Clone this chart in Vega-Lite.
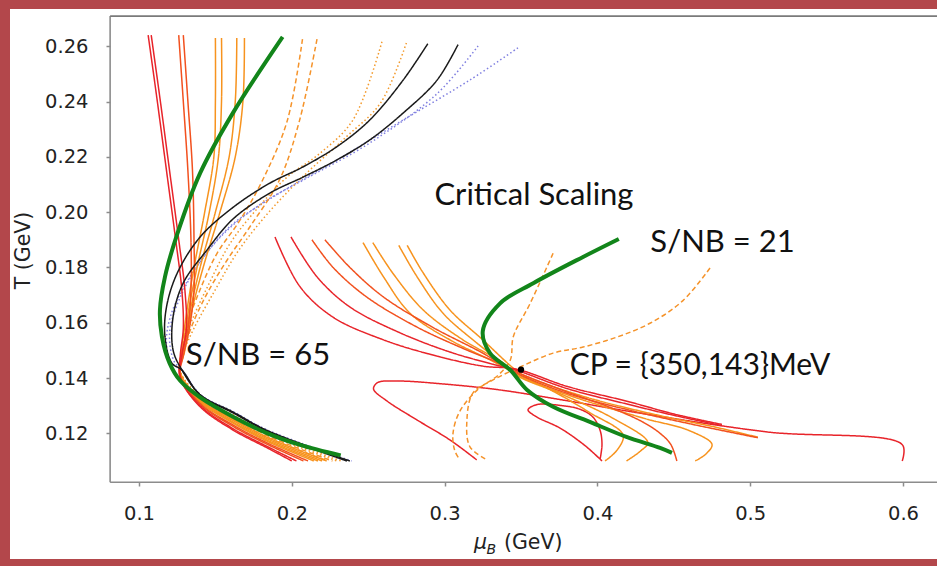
{
  "$schema": "https://vega.github.io/schema/vega-lite/v6.json",
  "width": 927,
  "height": 550,
  "autosize": {"type": "none"},
  "padding": {"left": 10, "top": 9, "right": 0, "bottom": 7},
  "background": "#b3474b",
  "config": {
    "view": {"stroke": null, "fill": "white"},
    "axis": {
      "domain": false, "grid": false,
      "tickColor": "#8c8c8c", "tickWidth": 1.5, "tickSize": 4,
      "labelFont": "DejaVu Sans", "labelFontSize": 19.5, "labelColor": "#222222",
      "labelFlush": false, "labelOverlap": false,
      "titleFont": "DejaVu Sans", "titleFontSize": 20.5, "titleFontWeight": "normal", "titleColor": "#222222"
    }
  },
  "datasets": {
    "curves": [
      {"c": "a1", "k": "red"}, {"c": "a2", "k": "red"}, {"c": "a3", "k": "redorange"}, {"c": "a4", "k": "redorange"},
      {"c": "a5", "k": "orange"}, {"c": "a6", "k": "orange"}, {"c": "a7", "k": "orange"}, {"c": "a8", "k": "orange"},
      {"c": "a9", "k": "odash"}, {"c": "a10", "k": "odash"}, {"c": "a11", "k": "odot"}, {"c": "a12", "k": "odot"},
      {"c": "a13", "k": "black"}, {"c": "a14", "k": "black"}, {"c": "a15", "k": "bdot"}, {"c": "a16", "k": "bdot"},
      {"c": "b1", "k": "red"}, {"c": "b2", "k": "red"}, {"c": "b3", "k": "redorange"}, {"c": "b4", "k": "redorange"},
      {"c": "b5", "k": "orange"}, {"c": "b6", "k": "orange"}, {"c": "b7", "k": "orange"}, {"c": "b8", "k": "orange"},
      {"c": "b9", "k": "red"}, {"c": "b10", "k": "red"}, {"c": "b11", "k": "odash"}, {"c": "b12", "k": "odash"},
      {"c": "g1", "k": "green"}, {"c": "g2", "k": "green"}
    ],
    "pts": [
      {"c":"a15","x":0.3219,"T":0.2601},{"c":"a15","x":0.295,"T":0.2428},{"c":"a15","x":0.251,"T":0.225},{"c":"a15","x":0.2075,"T":0.2116},{"c":"a15","x":0.18,"T":0.203},{"c":"a15","x":0.155,"T":0.192},{"c":"a15","x":0.135,"T":0.178},{"c":"a15","x":0.121,"T":0.163},{"c":"a15","x":0.118,"T":0.152},{"c":"a15","x":0.122,"T":0.145},{"c":"a15","x":0.128,"T":0.1429},{"c":"a15","x":0.14,"T":0.1339},{"c":"a15","x":0.1615,"T":0.1275},{"c":"a15","x":0.184,"T":0.1208},{"c":"a15","x":0.2369,"T":0.110},
      {"c":"a16","x":0.348,"T":0.2594},{"c":"a16","x":0.3166,"T":0.2478},{"c":"a16","x":0.2728,"T":0.2333},{"c":"a16","x":0.2296,"T":0.2189},{"c":"a16","x":0.1857,"T":0.2048},{"c":"a16","x":0.16,"T":0.195},{"c":"a16","x":0.14,"T":0.182},{"c":"a16","x":0.126,"T":0.168},{"c":"a16","x":0.12,"T":0.156},{"c":"a16","x":0.123,"T":0.146},{"c":"a16","x":0.128,"T":0.1431},{"c":"a16","x":0.14,"T":0.1341},{"c":"a16","x":0.1615,"T":0.1279},{"c":"a16","x":0.184,"T":0.1212},{"c":"a16","x":0.2391,"T":0.110},
      {"c":"a11","x":0.259,"T":0.2616},{"c":"a11","x":0.240,"T":0.2333},{"c":"a11","x":0.2185,"T":0.2213},{"c":"a11","x":0.197,"T":0.2127},{"c":"a11","x":0.179,"T":0.2023},{"c":"a11","x":0.160,"T":0.189},{"c":"a11","x":0.146,"T":0.1743},{"c":"a11","x":0.134,"T":0.16},{"c":"a11","x":0.128,"T":0.15},{"c":"a11","x":0.127,"T":0.1423},{"c":"a11","x":0.14,"T":0.133},{"c":"a11","x":0.1615,"T":0.1263},{"c":"a11","x":0.184,"T":0.1196},{"c":"a11","x":0.2296,"T":0.110},
      {"c":"a12","x":0.275,"T":0.2612},{"c":"a12","x":0.258,"T":0.2394},{"c":"a12","x":0.236,"T":0.2274},{"c":"a12","x":0.207,"T":0.2127},{"c":"a12","x":0.185,"T":0.2},{"c":"a12","x":0.165,"T":0.186},{"c":"a12","x":0.150,"T":0.172},{"c":"a12","x":0.136,"T":0.158},{"c":"a12","x":0.129,"T":0.149},{"c":"a12","x":0.127,"T":0.1426},{"c":"a12","x":0.14,"T":0.1333},{"c":"a12","x":0.1615,"T":0.1267},{"c":"a12","x":0.184,"T":0.1201},{"c":"a12","x":0.2323,"T":0.110},
      {"c":"a9","x":0.207,"T":0.2626},{"c":"a9","x":0.197,"T":0.233},{"c":"a9","x":0.181,"T":0.2117},{"c":"a9","x":0.166,"T":0.197},{"c":"a9","x":0.151,"T":0.185},{"c":"a9","x":0.140,"T":0.172},{"c":"a9","x":0.132,"T":0.16},{"c":"a9","x":0.128,"T":0.15},{"c":"a9","x":0.127,"T":0.1419},{"c":"a9","x":0.14,"T":0.1323},{"c":"a9","x":0.1615,"T":0.1252},{"c":"a9","x":0.184,"T":0.1186},{"c":"a9","x":0.2236,"T":0.110},
      {"c":"a10","x":0.2165,"T":0.2626},{"c":"a10","x":0.205,"T":0.233},{"c":"a10","x":0.192,"T":0.2117},{"c":"a10","x":0.1726,"T":0.1947},{"c":"a10","x":0.1576,"T":0.1826},{"c":"a10","x":0.144,"T":0.17},{"c":"a10","x":0.134,"T":0.158},{"c":"a10","x":0.129,"T":0.149},{"c":"a10","x":0.127,"T":0.1421},{"c":"a10","x":0.14,"T":0.1327},{"c":"a10","x":0.1615,"T":0.1258},{"c":"a10","x":0.184,"T":0.1191},{"c":"a10","x":0.2266,"T":0.110},
      {"c":"a5","x":0.150,"T":0.263},{"c":"a5","x":0.150,"T":0.24},{"c":"a5","x":0.149,"T":0.22},{"c":"a5","x":0.143,"T":0.2},{"c":"a5","x":0.136,"T":0.18},{"c":"a5","x":0.131,"T":0.163},{"c":"a5","x":0.128,"T":0.15},{"c":"a5","x":0.127,"T":0.1411},{"c":"a5","x":0.14,"T":0.1313},{"c":"a5","x":0.1615,"T":0.1237},{"c":"a5","x":0.184,"T":0.1171},{"c":"a5","x":0.2144,"T":0.110},
      {"c":"a6","x":0.154,"T":0.263},{"c":"a6","x":0.154,"T":0.24},{"c":"a6","x":0.152,"T":0.22},{"c":"a6","x":0.146,"T":0.2},{"c":"a6","x":0.138,"T":0.18},{"c":"a6","x":0.132,"T":0.163},{"c":"a6","x":0.129,"T":0.15},{"c":"a6","x":0.127,"T":0.1414},{"c":"a6","x":0.14,"T":0.1316},{"c":"a6","x":0.1615,"T":0.1241},{"c":"a6","x":0.184,"T":0.1175},{"c":"a6","x":0.2171,"T":0.110},
      {"c":"a7","x":0.164,"T":0.263},{"c":"a7","x":0.163,"T":0.24},{"c":"a7","x":0.159,"T":0.22},{"c":"a7","x":0.150,"T":0.2},{"c":"a7","x":0.140,"T":0.18},{"c":"a7","x":0.133,"T":0.163},{"c":"a7","x":0.129,"T":0.15},{"c":"a7","x":0.127,"T":0.1416},{"c":"a7","x":0.14,"T":0.1319},{"c":"a7","x":0.1615,"T":0.1246},{"c":"a7","x":0.184,"T":0.118},{"c":"a7","x":0.2198,"T":0.110},
      {"c":"a8","x":0.169,"T":0.263},{"c":"a8","x":0.168,"T":0.24},{"c":"a8","x":0.163,"T":0.22},{"c":"a8","x":0.153,"T":0.2},{"c":"a8","x":0.142,"T":0.18},{"c":"a8","x":0.134,"T":0.163},{"c":"a8","x":0.130,"T":0.15},{"c":"a8","x":0.127,"T":0.1418},{"c":"a8","x":0.14,"T":0.1322},{"c":"a8","x":0.1615,"T":0.1251},{"c":"a8","x":0.184,"T":0.1185},{"c":"a8","x":0.2228,"T":0.110},
      {"c":"a3","x":0.126,"T":0.264},{"c":"a3","x":0.129,"T":0.24},{"c":"a3","x":0.132,"T":0.215},{"c":"a3","x":0.134,"T":0.19},{"c":"a3","x":0.134,"T":0.172},{"c":"a3","x":0.132,"T":0.158},{"c":"a3","x":0.128,"T":0.148},{"c":"a3","x":0.127,"T":0.1406},{"c":"a3","x":0.14,"T":0.1305},{"c":"a3","x":0.1615,"T":0.1225},{"c":"a3","x":0.184,"T":0.116},{"c":"a3","x":0.2076,"T":0.110},
      {"c":"a4","x":0.129,"T":0.264},{"c":"a4","x":0.132,"T":0.24},{"c":"a4","x":0.135,"T":0.215},{"c":"a4","x":0.136,"T":0.19},{"c":"a4","x":0.136,"T":0.172},{"c":"a4","x":0.133,"T":0.158},{"c":"a4","x":0.129,"T":0.148},{"c":"a4","x":0.127,"T":0.1408},{"c":"a4","x":0.14,"T":0.1308},{"c":"a4","x":0.1615,"T":0.123},{"c":"a4","x":0.184,"T":0.1165},{"c":"a4","x":0.2106,"T":0.110},
      {"c":"a1","x":0.106,"T":0.264},{"c":"a1","x":0.112,"T":0.24},{"c":"a1","x":0.118,"T":0.215},{"c":"a1","x":0.124,"T":0.19},{"c":"a1","x":0.128,"T":0.172},{"c":"a1","x":0.129,"T":0.158},{"c":"a1","x":0.127,"T":0.148},{"c":"a1","x":0.127,"T":0.140},{"c":"a1","x":0.14,"T":0.1296},{"c":"a1","x":0.1615,"T":0.1212},{"c":"a1","x":0.184,"T":0.1147},{"c":"a1","x":0.2,"T":0.110},
      {"c":"a2","x":0.108,"T":0.264},{"c":"a2","x":0.114,"T":0.24},{"c":"a2","x":0.120,"T":0.215},{"c":"a2","x":0.126,"T":0.19},{"c":"a2","x":0.130,"T":0.172},{"c":"a2","x":0.131,"T":0.158},{"c":"a2","x":0.128,"T":0.148},{"c":"a2","x":0.127,"T":0.1402},{"c":"a2","x":0.14,"T":0.130},{"c":"a2","x":0.1615,"T":0.1217},{"c":"a2","x":0.184,"T":0.1152},{"c":"a2","x":0.203,"T":0.110},
      {"c":"a13","x":0.289,"T":0.2609},{"c":"a13","x":0.2728,"T":0.2477},{"c":"a13","x":0.251,"T":0.2333},{"c":"a13","x":0.2296,"T":0.2237},{"c":"a13","x":0.2075,"T":0.2164},{"c":"a13","x":0.1857,"T":0.2105},{"c":"a13","x":0.1615,"T":0.2017},{"c":"a13","x":0.14,"T":0.191},{"c":"a13","x":0.125,"T":0.1779},{"c":"a13","x":0.118,"T":0.1657},{"c":"a13","x":0.117,"T":0.1549},{"c":"a13","x":0.1215,"T":0.1454},{"c":"a13","x":0.128,"T":0.1429},{"c":"a13","x":0.14,"T":0.1338},{"c":"a13","x":0.1615,"T":0.1274},{"c":"a13","x":0.184,"T":0.1207},{"c":"a13","x":0.2361,"T":0.110},
      {"c":"a14","x":0.3088,"T":0.2606},{"c":"a14","x":0.295,"T":0.2477},{"c":"a14","x":0.2728,"T":0.2358},{"c":"a14","x":0.251,"T":0.2261},{"c":"a14","x":0.2296,"T":0.2189},{"c":"a14","x":0.2075,"T":0.2127},{"c":"a14","x":0.1857,"T":0.2069},{"c":"a14","x":0.1615,"T":0.1975},{"c":"a14","x":0.1445,"T":0.1863},{"c":"a14","x":0.129,"T":0.1744},{"c":"a14","x":0.1223,"T":0.1621},{"c":"a14","x":0.1223,"T":0.1501},{"c":"a14","x":0.128,"T":0.143},{"c":"a14","x":0.14,"T":0.134},{"c":"a14","x":0.1615,"T":0.1277},{"c":"a14","x":0.184,"T":0.121},{"c":"a14","x":0.238,"T":0.110},
      {"c":"g1","x":0.194,"T":0.2634},{"c":"g1","x":0.1615,"T":0.2359},{"c":"g1","x":0.140,"T":0.2141},{"c":"g1","x":0.125,"T":0.192},{"c":"g1","x":0.117,"T":0.1766},{"c":"g1","x":0.1137,"T":0.1646},{"c":"g1","x":0.115,"T":0.155},{"c":"g1","x":0.120,"T":0.1454},{"c":"g1","x":0.127,"T":0.139},{"c":"g1","x":0.14,"T":0.133},{"c":"g1","x":0.1615,"T":0.126},{"c":"g1","x":0.184,"T":0.12},{"c":"g1","x":0.2054,"T":0.1158},{"c":"g1","x":0.232,"T":0.112},
      {"c":"b9","x":0.321,"T":0.1104},{"c":"b9","x":0.3035,"T":0.1176},{"c":"b9","x":0.282,"T":0.1248},{"c":"b9","x":0.262,"T":0.1318},{"c":"b9","x":0.2535,"T":0.136},{"c":"b9","x":0.256,"T":0.1383},{"c":"b9","x":0.27,"T":0.1389},{"c":"b9","x":0.3,"T":0.1378},{"c":"b9","x":0.336,"T":0.1357},{"c":"b9","x":0.38,"T":0.1318},{"c":"b9","x":0.4233,"T":0.1277},{"c":"b9","x":0.511,"T":0.1205},{"c":"b9","x":0.5995,"T":0.1159},{"c":"b9","x":0.5995,"T":0.110},
      {"c":"b10","x":0.4017,"T":0.1105},{"c":"b10","x":0.403,"T":0.1159},{"c":"b10","x":0.4017,"T":0.1212},{"c":"b10","x":0.397,"T":0.1259},{"c":"b10","x":0.3886,"T":0.1287},{"c":"b10","x":0.3755,"T":0.1301},{"c":"b10","x":0.3605,"T":0.1304},{"c":"b10","x":0.3546,"T":0.1285},{"c":"b10","x":0.36,"T":0.126},{"c":"b10","x":0.3755,"T":0.1219},{"c":"b10","x":0.392,"T":0.1155},{"c":"b10","x":0.403,"T":0.110},
      {"c":"b11","x":0.371,"T":0.1851},{"c":"b11","x":0.356,"T":0.167},{"c":"b11","x":0.345,"T":0.155},{"c":"b11","x":0.343,"T":0.1465},{"c":"b11","x":0.335,"T":0.141},{"c":"b11","x":0.322,"T":0.136},{"c":"b11","x":0.310,"T":0.128},{"c":"b11","x":0.3055,"T":0.12},{"c":"b11","x":0.3065,"T":0.114},{"c":"b11","x":0.31,"T":0.1103},
      {"c":"b12","x":0.4737,"T":0.1798},{"c":"b12","x":0.456,"T":0.168},{"c":"b12","x":0.4344,"T":0.1598},{"c":"b12","x":0.4128,"T":0.1548},{"c":"b12","x":0.3906,"T":0.1512},{"c":"b12","x":0.371,"T":0.149},{"c":"b12","x":0.3494,"T":0.144},{"c":"b12","x":0.3317,"T":0.1393},{"c":"b12","x":0.3186,"T":0.1346},{"c":"b12","x":0.3146,"T":0.1248},{"c":"b12","x":0.3166,"T":0.1151},{"c":"b12","x":0.3277,"T":0.1104},
      {"c":"b5","x":0.2466,"T":0.189},{"c":"b5","x":0.26,"T":0.1766},{"c":"b5","x":0.2774,"T":0.1634},{"c":"b5","x":0.3035,"T":0.1538},{"c":"b5","x":0.33,"T":0.1465},{"c":"b5","x":0.347,"T":0.1415},{"c":"b5","x":0.37,"T":0.1355},{"c":"b5","x":0.395,"T":0.1275},{"c":"b5","x":0.4168,"T":0.1194},{"c":"b5","x":0.413,"T":0.114},{"c":"b5","x":0.405,"T":0.110},
      {"c":"b6","x":0.253,"T":0.189},{"c":"b6","x":0.266,"T":0.178},{"c":"b6","x":0.286,"T":0.1646},{"c":"b6","x":0.312,"T":0.1538},{"c":"b6","x":0.338,"T":0.1455},{"c":"b6","x":0.347,"T":0.141},{"c":"b6","x":0.375,"T":0.1345},{"c":"b6","x":0.41,"T":0.1255},{"c":"b6","x":0.433,"T":0.1167},{"c":"b6","x":0.428,"T":0.1135},{"c":"b6","x":0.419,"T":0.110},
      {"c":"b7","x":0.270,"T":0.188},{"c":"b7","x":0.282,"T":0.1766},{"c":"b7","x":0.299,"T":0.1634},{"c":"b7","x":0.321,"T":0.1527},{"c":"b7","x":0.34,"T":0.1445},{"c":"b7","x":0.347,"T":0.1412},{"c":"b7","x":0.38,"T":0.134},{"c":"b7","x":0.43,"T":0.1255},{"c":"b7","x":0.46,"T":0.121},{"c":"b7","x":0.475,"T":0.116},{"c":"b7","x":0.471,"T":0.1125},{"c":"b7","x":0.464,"T":0.110},
      {"c":"b8","x":0.2755,"T":0.188},{"c":"b8","x":0.286,"T":0.178},{"c":"b8","x":0.3035,"T":0.1646},{"c":"b8","x":0.325,"T":0.1538},{"c":"b8","x":0.343,"T":0.1445},{"c":"b8","x":0.35,"T":0.1415},{"c":"b8","x":0.39,"T":0.1335},{"c":"b8","x":0.44,"T":0.1265},{"c":"b8","x":0.475,"T":0.1225},{"c":"b8","x":0.505,"T":0.1186},
      {"c":"b3","x":0.2132,"T":0.190},{"c":"b3","x":0.227,"T":0.180},{"c":"b3","x":0.249,"T":0.1693},{"c":"b3","x":0.282,"T":0.1584},{"c":"b3","x":0.3146,"T":0.1501},{"c":"b3","x":0.335,"T":0.1455},{"c":"b3","x":0.347,"T":0.1422},{"c":"b3","x":0.38,"T":0.135},{"c":"b3","x":0.41,"T":0.129},{"c":"b3","x":0.43,"T":0.124},{"c":"b3","x":0.441,"T":0.12},{"c":"b3","x":0.448,"T":0.116},{"c":"b3","x":0.452,"T":0.110},
      {"c":"b4","x":0.2217,"T":0.190},{"c":"b4","x":0.238,"T":0.180},{"c":"b4","x":0.26,"T":0.1693},{"c":"b4","x":0.292,"T":0.1584},{"c":"b4","x":0.325,"T":0.149},{"c":"b4","x":0.347,"T":0.1418},{"c":"b4","x":0.38,"T":0.1345},{"c":"b4","x":0.42,"T":0.1285},{"c":"b4","x":0.46,"T":0.1235},{"c":"b4","x":0.505,"T":0.1184},
      {"c":"b1","x":0.189,"T":0.191},{"c":"b1","x":0.2054,"T":0.173},{"c":"b1","x":0.227,"T":0.162},{"c":"b1","x":0.26,"T":0.1538},{"c":"b1","x":0.2924,"T":0.1483},{"c":"b1","x":0.325,"T":0.1443},{"c":"b1","x":0.347,"T":0.1432},{"c":"b1","x":0.38,"T":0.137},{"c":"b1","x":0.42,"T":0.1315},{"c":"b1","x":0.45,"T":0.127},{"c":"b1","x":0.4815,"T":0.1232},
      {"c":"b2","x":0.1995,"T":0.191},{"c":"b2","x":0.2165,"T":0.1766},{"c":"b2","x":0.238,"T":0.1657},{"c":"b2","x":0.271,"T":0.1563},{"c":"b2","x":0.3035,"T":0.1494},{"c":"b2","x":0.33,"T":0.1452},{"c":"b2","x":0.347,"T":0.1428},{"c":"b2","x":0.38,"T":0.1362},{"c":"b2","x":0.42,"T":0.1305},{"c":"b2","x":0.45,"T":0.1265},{"c":"b2","x":0.4815,"T":0.1228},
      {"c":"g2","x":0.414,"T":0.1903},{"c":"g2","x":0.3906,"T":0.1838},{"c":"g2","x":0.358,"T":0.1743},{"c":"g2","x":0.3363,"T":0.167},{"c":"g2","x":0.325,"T":0.157},{"c":"g2","x":0.3297,"T":0.149},{"c":"g2","x":0.343,"T":0.1429},{"c":"g2","x":0.354,"T":0.1357},{"c":"g2","x":0.371,"T":0.1296},{"c":"g2","x":0.397,"T":0.1237},{"c":"g2","x":0.419,"T":0.1187},{"c":"g2","x":0.441,"T":0.1147},{"c":"g2","x":0.4488,"T":0.1129}
    ],
    "notes": [
      {"label": "Critical Scaling", "x": 0.3585, "T": 0.2026, "size": "big"},
      {"label": "S/NB = 65", "x": 0.1779, "T": 0.1447, "size": "big"},
      {"label": "S/NB = 21", "x": 0.4819, "T": 0.1856, "size": "big"},
      {"label": "CP = {350,143}MeV", "x": 0.4671, "T": 0.1411, "size": "small"}
    ]
  },
  "layer": [
    {
      "data": {"name": "pts"},
      "transform": [
        {"lookup": "c", "from": {"data": {"name": "curves"}, "key": "c", "fields": ["k"]}},
        {"filter": "datum.k !== 'green'"}
      ],
      "mark": {"type": "line", "interpolate": "catmull-rom", "clip": false},
      "encoding": {
        "x": {"field": "x", "type": "quantitative", "scale": {"domain": [0.015576, 0.62225], "nice": false, "zero": false},
              "axis": {"title": null, "values": [0.1, 0.2, 0.3, 0.4, 0.5, 0.6], "format": ".1f", "offset": -77, "labelPadding": 18}},
        "y": {"field": "T", "type": "quantitative", "scale": {"domain": [0.07454, 0.27346], "nice": false, "zero": false},
              "axis": {"title": "T (GeV)", "values": [0.12, 0.14, 0.16, 0.18, 0.2, 0.22, 0.24, 0.26], "format": ".2f", "offset": -100, "labelPadding": 18, "titleY": 241, "titlePadding": 11}},
        "detail": {"field": "c"},
        "order": {"value": null},
        "color": {"field": "k", "type": "nominal", "legend": null,
                  "scale": {"domain": ["red", "redorange", "orange", "odash", "odot", "black", "bdot"],
                            "range": ["#e8242a", "#f2511f", "#f7931e", "#f5932a", "#f39a2c", "#1a1a1a", "#7f7fe0"]}},
        "strokeDash": {"field": "k", "type": "nominal", "legend": null,
                  "scale": {"domain": ["red", "redorange", "orange", "odash", "odot", "black", "bdot"],
                            "range": [[1, 0], [1, 0], [1, 0], [5, 3], [1.5, 2.5], [1, 0], [1.5, 2.5]]}},
        "strokeWidth": {"field": "k", "type": "nominal", "legend": null,
                  "scale": {"domain": ["red", "redorange", "orange", "odash", "odot", "black", "bdot"],
                            "range": [1.5, 1.5, 1.5, 1.5, 1.3, 1.4, 1.3]}}
      }
    },
    {
      "data": {"name": "pts"},
      "transform": [
        {"lookup": "c", "from": {"data": {"name": "curves"}, "key": "c", "fields": ["k"]}},
        {"filter": "datum.k === 'green'"}
      ],
      "mark": {"type": "line", "interpolate": "catmull-rom", "color": "#12851a", "strokeWidth": 4, "clip": false},
      "encoding": {
        "x": {"field": "x", "type": "quantitative"},
        "y": {"field": "T", "type": "quantitative"},
        "detail": {"field": "c"},
        "order": {"value": null}
      }
    },
    {
      "data": {"values": [{"x": 0.350, "T": 0.143}]},
      "mark": {"type": "point", "filled": true, "color": "#000000", "size": 40, "opacity": 1},
      "encoding": {"x": {"field": "x", "type": "quantitative"}, "y": {"field": "T", "type": "quantitative"}}
    },
    {
      "data": {"name": "notes"},
      "transform": [{"filter": "datum.size === 'big'"}],
      "mark": {"type": "text", "font": "Lato", "fontSize": 31, "color": "#111111", "align": "center", "baseline": "alphabetic"},
      "encoding": {"x": {"field": "x", "type": "quantitative"}, "y": {"field": "T", "type": "quantitative"}, "text": {"field": "label"}}
    },
    {
      "data": {"name": "notes"},
      "transform": [{"filter": "datum.size === 'small'"}],
      "mark": {"type": "text", "font": "Lato", "fontSize": 30, "color": "#111111", "align": "center", "baseline": "alphabetic"},
      "encoding": {"x": {"field": "x", "type": "quantitative"}, "y": {"field": "T", "type": "quantitative"}, "text": {"field": "label"}}
    },
    {
      "data": {"values": [{"label": "μ", "x": 0.3192, "T": 0.07816}]},
      "mark": {"type": "text", "font": "DejaVu Sans", "fontStyle": "italic", "fontSize": 20.5, "color": "#222222", "align": "left", "baseline": "alphabetic"},
      "encoding": {"x": {"field": "x", "type": "quantitative"}, "y": {"field": "T", "type": "quantitative"}, "text": {"field": "label"}}
    },
    {
      "data": {"values": [{"label": "B", "x": 0.3275, "T": 0.07650}]},
      "mark": {"type": "text", "font": "DejaVu Sans", "fontStyle": "italic", "fontSize": 14, "color": "#222222", "align": "left", "baseline": "alphabetic"},
      "encoding": {"x": {"field": "x", "type": "quantitative"}, "y": {"field": "T", "type": "quantitative"}, "text": {"field": "label"}}
    },
    {
      "data": {"values": [{"label": "(GeV)", "x": 0.3388, "T": 0.07816}]},
      "mark": {"type": "text", "font": "DejaVu Sans", "fontSize": 20.5, "color": "#222222", "align": "left", "baseline": "alphabetic"},
      "encoding": {"x": {"field": "x", "type": "quantitative"}, "y": {"field": "T", "type": "quantitative"}, "text": {"field": "label"}}
    },
    {
      "data": {"values": [{}]},
      "mark": {"type": "rule", "color": "#8c8c8c", "strokeWidth": 1.6},
      "encoding": {"x": {"datum": 0.0811}, "y": {"datum": 0.1023}, "y2": {"datum": 0.2709}}
    },
    {
      "data": {"values": [{}]},
      "mark": {"type": "rule", "color": "#8c8c8c", "strokeWidth": 1.6},
      "encoding": {"x": {"datum": 0.0811}, "x2": {"datum": 0.62225}, "y": {"datum": 0.1023}}
    },
    {
      "data": {"values": [{}]},
      "mark": {"type": "rule", "color": "#7a7a7a", "strokeWidth": 1.6},
      "encoding": {"x": {"datum": 0.0811}, "x2": {"datum": 0.62225}, "y": {"datum": 0.2709}}
    }
  ]
}
